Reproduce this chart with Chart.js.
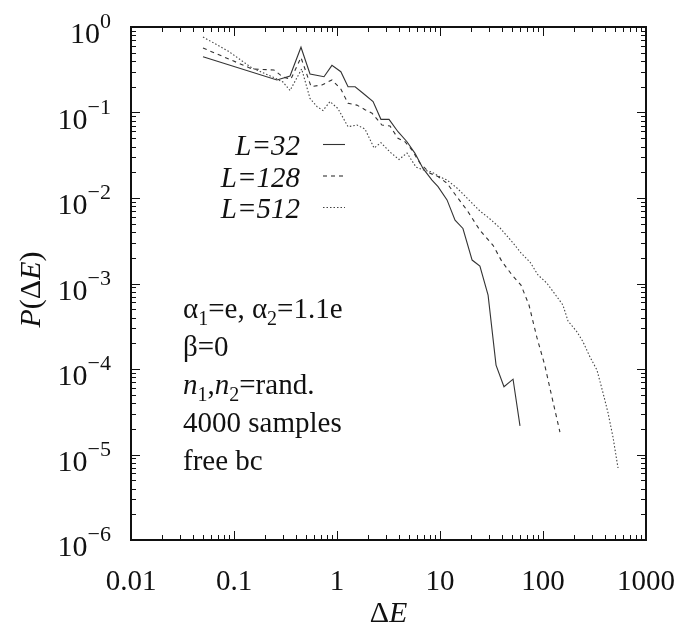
<!DOCTYPE html>
<html>
<head>
<meta charset="utf-8">
<script src="https://cdn.jsdelivr.net/npm/chart.js@4.4.1/dist/chart.umd.min.js"></script>
<style>
  html, body { margin: 0; padding: 0; background: #fff; }
  #wrap { width: 685px; height: 635px; }
</style>
</head>
<body>
<div id="wrap"><canvas id="chart" width="685" height="635"></canvas></div>
<script>
// data
const dE32 = [0.05, 0.261, 0.35, 0.447, 0.547, 0.748, 0.893, 1.09, 1.28, 1.50, 1.79, 2.24, 2.67, 3.20, 3.91, 4.78, 5.72, 6.84, 8.36, 9.57, 11.7, 14.0, 16.7, 20.5, 24.4, 29.3, 35.0, 41.8, 51.2, 59.8];
const p32 = [0.45, 0.24, 0.267, 0.58, 0.282, 0.262, 0.356, 0.30, 0.20, 0.20, 0.168, 0.134, 0.0832, 0.0832, 0.0596, 0.0455, 0.0333, 0.0222, 0.0162, 0.0136, 0.0095, 0.0055, 0.0044, 0.00188, 0.0016, 0.00073, 0.000111, 0.000062, 0.000076, 0.0000216];

const dE128 = [0.05, 0.15, 0.244, 0.299, 0.357, 0.447, 0.56, 0.714, 0.893, 1.09, 1.28, 1.56, 1.87, 2.19, 2.73, 3.27, 3.91, 4.57, 5.35, 6.39, 8.0, 9.57, 11.7, 14.6, 18.3, 24.4, 32.7, 40.0, 50.0, 61.1, 73.1, 87.5, 104, 122, 146];
const p128 = [0.568, 0.323, 0.314, 0.26, 0.246, 0.44, 0.201, 0.21, 0.24, 0.188, 0.128, 0.122, 0.108, 0.098, 0.0714, 0.0695, 0.0499, 0.0455, 0.0364, 0.0255, 0.0195, 0.0178, 0.0149, 0.0103, 0.0072, 0.0042, 0.0028, 0.0018, 0.00126, 0.00096, 0.00056, 0.000231, 0.000111, 0.0000471, 0.0000183];

const dE512 = [0.05, 0.0875, 0.15, 0.25, 0.299, 0.35, 0.454, 0.547, 0.64, 0.731, 0.855, 1.02, 1.28, 1.56, 1.87, 2.29, 2.67, 3.27, 4.0, 4.78, 5.85, 7.0, 8.36, 10.0, 11.7, 14.6, 18.7, 24.4, 30.6, 38.3, 51.2, 61.1, 74.8, 89.4, 109, 137, 156, 175, 214, 245, 286, 334, 383, 428, 478, 535];
const p512 = [0.764, 0.524, 0.331, 0.253, 0.227, 0.181, 0.323, 0.146, 0.117, 0.1055, 0.134, 0.1114, 0.0682, 0.0714, 0.0641, 0.0384, 0.0443, 0.0345, 0.0282, 0.0336, 0.023, 0.0212, 0.0201, 0.0176, 0.0162, 0.0131, 0.00973, 0.00705, 0.00568, 0.00446, 0.00298, 0.00228, 0.00178, 0.00126, 0.00101, 0.000695, 0.000561, 0.000364, 0.000271, 0.000207, 0.000138, 0.0000973, 0.0000524, 0.0000306, 0.000016, 0.00000695];

const seriesLabels = ['L=32', 'L=128', 'L=512'];
const xTickValues = [0.01, 0.1, 1, 10, 100, 1000];
const xTickLabels = ['0.01', '0.1', '1', '10', '100', '1000'];
const yExponents = [0, -1, -2, -3, -4, -5, -6];

const SERIF = "'Liberation Serif', 'DejaVu Serif', serif";
const INK = '#111';

function toPoints(xs, ys) {
  return xs.map((v, i) => ({ x: v, y: ys[i] }));
}

// draws a run of text pieces (sub/superscripts, italics) starting at x
function richWidth(ctx, parts) {
  let w = 0;
  parts.forEach(p => {
    ctx.font = (p.it ? 'italic ' : '') + p.size + 'px ' + SERIF;
    w += ctx.measureText(p.t).width;
  });
  return w;
}
function drawRich(ctx, x, y, parts, align) {
  const w = richWidth(ctx, parts);
  if (align === 'center') x -= w / 2;
  if (align === 'right') x -= w;
  ctx.textAlign = 'left';
  ctx.textBaseline = 'alphabetic';
  parts.forEach(p => {
    ctx.font = (p.it ? 'italic ' : '') + p.size + 'px ' + SERIF;
    ctx.fillText(p.t, x, y + (p.dy || 0));
    x += ctx.measureText(p.t).width;
  });
}
function txt(t, it) { return { t: t, size: 29, it: !!it }; }
function sub(t) { return { t: t, size: 20, dy: 7 }; }

const frame = {
  id: 'frame',
  afterDraw(chart) {
    const { ctx, chartArea: a, scales } = chart;
    const xs = scales.x, ys = scales.y;
    ctx.save();
    ctx.fillStyle = INK;
    ctx.strokeStyle = INK;

    // inward ticks on all four sides
    ctx.lineWidth = 1;
    ctx.beginPath();
    for (let d = -2; d <= 3; d++) {
      for (let k = 1; k <= 9; k++) {
        const v = k * Math.pow(10, d);
        if (v > 1000) break;
        const px = Math.round(xs.getPixelForValue(v)) + 0.5;
        const len = k === 1 ? 9 : 5;
        ctx.moveTo(px, a.bottom); ctx.lineTo(px, a.bottom - len);
        ctx.moveTo(px, a.top); ctx.lineTo(px, a.top + len);
      }
    }
    for (let d = -6; d <= 0; d++) {
      for (let k = 1; k <= 9; k++) {
        const v = k * Math.pow(10, d);
        if (v > 1) break;
        const py = Math.round(ys.getPixelForValue(v)) + 0.5;
        const len = k === 1 ? 9 : 5;
        ctx.moveTo(a.left, py); ctx.lineTo(a.left + len, py);
        ctx.moveTo(a.right, py); ctx.lineTo(a.right - len, py);
      }
    }
    ctx.stroke();

    ctx.lineWidth = 2;
    ctx.strokeRect(a.left, a.top, a.right - a.left, a.bottom - a.top);

    // x tick labels
    ctx.font = '29px ' + SERIF;
    ctx.textAlign = 'center';
    ctx.textBaseline = 'alphabetic';
    xTickValues.forEach((v, i) => {
      ctx.fillText(xTickLabels[i], xs.getPixelForValue(v), a.bottom + 50);
    });

    // y tick labels 10^n
    yExponents.forEach(e => {
      const py = ys.getPixelForValue(Math.pow(10, e));
      const exp = e < 0 ? '\u2212' + (-e) : String(e);
      ctx.font = '22px ' + SERIF;
      const sw = ctx.measureText(exp).width;
      ctx.font = '30px ' + SERIF;
      const bw = ctx.measureText('10').width;
      const right = a.left - 20;
      ctx.textAlign = 'left';
      ctx.fillText('10', right - sw - bw, py + 16);
      ctx.font = '22px ' + SERIF;
      ctx.fillText(exp, right - sw, py + 1);
    });

    // axis titles
    drawRich(ctx, (a.left + a.right) / 2, a.bottom + 82,
      [{ t: '\u0394', size: 30 }, { t: 'E', size: 30, it: true }], 'center');
    ctx.save();
    ctx.translate(40, (a.top + a.bottom) / 2 + 6);
    ctx.rotate(-Math.PI / 2);
    drawRich(ctx, 0, 0, [{ t: 'P', size: 30, it: true }, { t: '(\u0394', size: 30 },
      { t: 'E', size: 30, it: true }, { t: ')', size: 30 }], 'center');
    ctx.restore();

    // key, gnuplot style: label then line sample
    chart.data.datasets.forEach((ds, i) => {
      const base = a.top + 128 + i * 31.5;
      drawRich(ctx, a.left + 169, base, [{ t: seriesLabels[i], size: 29, it: true }], 'right');
      ctx.save();
      ctx.strokeStyle = ds.borderColor;
      ctx.lineWidth = ds.borderWidth;
      ctx.setLineDash(ds.borderDash || []);
      ctx.beginPath();
      ctx.moveTo(a.left + 192, base - 10.5);
      ctx.lineTo(a.left + 214, base - 10.5);
      ctx.stroke();
      ctx.restore();
    });

    // parameter notes
    const notes = [
      [txt('\u03b1'), sub('1'), txt('=e, \u03b1'), sub('2'), txt('=1.1e')],
      [txt('\u03b2=0')],
      [txt('n', true), sub('1'), txt(','), txt('n', true), sub('2'), txt('=rand.')],
      [txt('4000 samples')],
      [txt('free bc')]
    ];
    notes.forEach((parts, i) => {
      drawRich(ctx, a.left + 52, a.top + 291 + i * 38, parts, 'left');
    });

    ctx.restore();
  }
};

new Chart(document.getElementById('chart'), {
  type: 'line',
  data: {
    datasets: [
      { label: seriesLabels[0], data: toPoints(dE32, p32), borderColor: '#333', borderWidth: 1.1, borderDash: [] },
      { label: seriesLabels[1], data: toPoints(dE128, p128), borderColor: '#333', borderWidth: 1.1, borderDash: [4, 4] },
      { label: seriesLabels[2], data: toPoints(dE512, p512), borderColor: '#444', borderWidth: 1.1, borderDash: [1.5, 2] }
    ]
  },
  options: {
    responsive: false,
    devicePixelRatio: 1,
    animation: false,
    layout: { padding: { left: 131, top: 27, right: 39, bottom: 95 } },
    elements: { point: { radius: 0 }, line: { tension: 0 } },
    plugins: { legend: { display: false }, tooltip: { enabled: false } },
    scales: {
      x: { type: 'logarithmic', min: 0.01, max: 1000, display: false },
      y: { type: 'logarithmic', min: 1e-6, max: 1, display: false }
    }
  },
  plugins: [frame]
});
</script>
</body>
</html>
